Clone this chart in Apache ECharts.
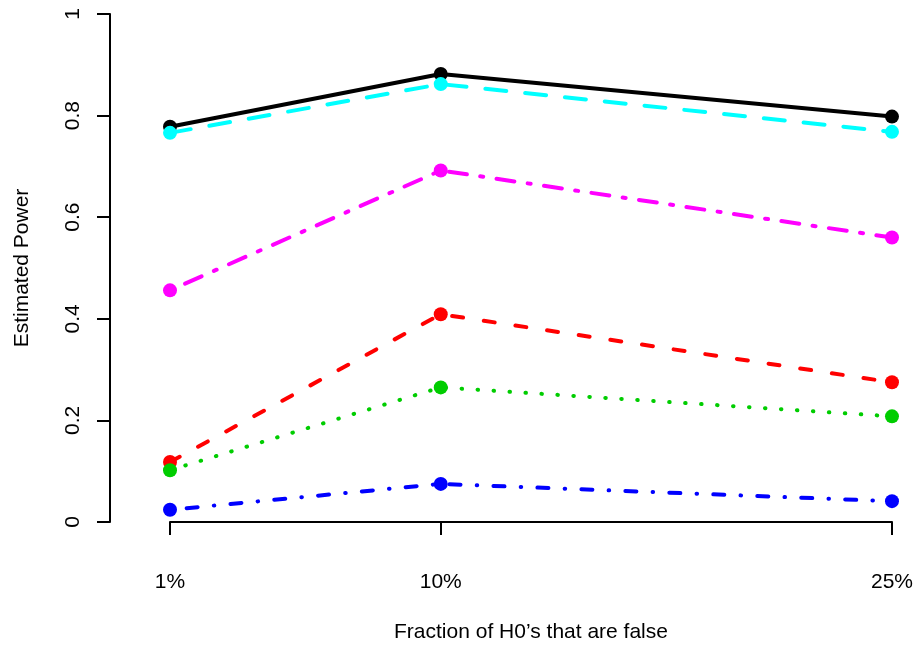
<!DOCTYPE html>
<html>
<head>
<meta charset="utf-8">
<script src="https://cdn.jsdelivr.net/npm/echarts@6/dist/echarts.min.js"></script>
<style>
html,body{margin:0;padding:0;background:#fff;}
#chart{width:916px;height:648px;}
</style>
</head>
<body>
<div id="chart"></div>
<script>
const fractions = [1, 10, 25];
const tickLabels = ['1%', '10%', '25%'];
const blackVals   = [0.778, 0.882, 0.798];
const redVals     = [0.118, 0.409, 0.275];
const greenVals   = [0.102, 0.265, 0.208];
const blueVals    = [0.024, 0.075, 0.041];
const cyanVals    = [0.766, 0.862, 0.768];
const magentaVals = [0.456, 0.692, 0.560];

const FONT = 'Liberation Sans, Arial, sans-serif';

function mk(vals, color, dash, offset) {
  return {
    type: 'line',
    data: fractions.map((f, i) => [f, vals[i]]),
    symbol: 'circle',
    symbolSize: 14,
    itemStyle: { color: color },
    lineStyle: { color: color, width: 4, type: dash, cap: 'round', dashOffset: offset || 0 },
    emphasis: { disabled: true },
    z: 2
  };
}

const chart = echarts.init(document.getElementById('chart'), null, { renderer: 'canvas' });
chart.setOption({
  animation: false,
  backgroundColor: '#ffffff',
  grid: { left: 170, right: 23, top: 14, bottom: 125, containLabel: false },
  xAxis: {
    type: 'value', min: 1, max: 25, offset: 20,
    name: 'Fraction of H0\u2019s that are false',
    nameLocation: 'middle', nameGap: 80,
    nameTextStyle: { fontFamily: FONT, fontSize: 21, color: '#000' },
    axisLine: { show: true, lineStyle: { color: '#000', width: 2 } },
    axisTick: { show: true, customValues: fractions, length: 13, lineStyle: { color: '#000', width: 2 } },
    axisLabel: {
      customValues: fractions, margin: 30,
      formatter: function (v) { return tickLabels[fractions.indexOf(v)] || ''; },
      fontFamily: FONT, fontSize: 21, color: '#000'
    },
    splitLine: { show: false }
  },
  yAxis: {
    type: 'value', min: 0, max: 1, interval: 0.2, offset: 60,
    name: 'Estimated Power',
    nameLocation: 'middle', nameGap: 77, nameRotate: 90,
    nameTextStyle: { fontFamily: FONT, fontSize: 21, color: '#000' },
    axisLine: { show: true, lineStyle: { color: '#000', width: 2 } },
    axisTick: { show: true, length: 13, lineStyle: { color: '#000', width: 2 } },
    axisLabel: {
      rotate: 90, margin: 26,
      formatter: function (v) { return v === 0 ? '0' : (v === 1 ? '1' : v.toFixed(1)); },
      fontFamily: FONT, fontSize: 21, color: '#000'
    },
    splitLine: { show: false }
  },
  series: [
    mk(blackVals, '#000000', 'solid'),
    mk(redVals, '#ff0000', [11, 21]),
    mk(greenVals, '#00cd00', [0.5, 15.5]),
    mk(blueVals, '#0000ff', [0.5, 16.25, 11, 16.25]),
    mk(cyanVals, '#00ffff', [21, 19]),
    mk(magentaVals, '#ff00ff', [3, 13.5, 18, 13.5])
  ]
});
</script>
</body>
</html>
